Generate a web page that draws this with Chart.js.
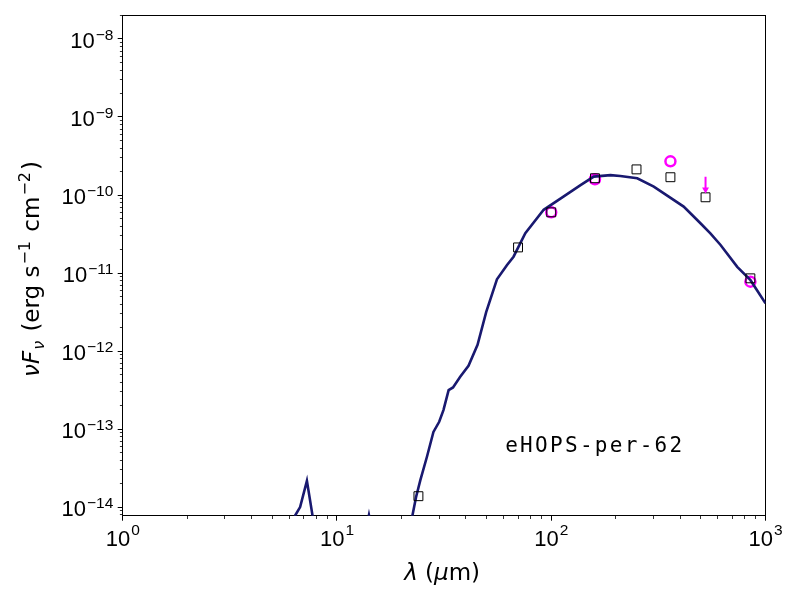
<!DOCTYPE html>
<html>
<head>
<meta charset="utf-8">
<script src="https://cdn.jsdelivr.net/npm/chart.js@4.4.1/dist/chart.umd.min.js"></script>
<style>
  html, body { margin: 0; padding: 0; background: #fff; }
  #wrap { width: 800px; height: 600px; }
</style>
</head>
<body>
<div id="wrap"><canvas id="sed"></canvas></div>
<script>
// --- SED of eHOPS-per-62: model curve + photometry (log-log) ---

const sourceName = 'eHOPS-per-62';

// axis ticks
const xTickValues = [1, 10, 100, 1000];
const xTickExponents = ['0', '1', '2', '3'];
const yTickValues = [1e-14, 1e-13, 1e-12, 1e-11, 1e-10, 1e-9, 1e-8];
const yTickExponents = ['−14', '−13', '−12', '−11', '−10', '−9', '−8'];
const minorSteps = [2, 3, 4, 5, 6, 7, 8, 9];

// model SED (micron, erg s-1 cm-2)
const modelLambda = [6.0, 6.38, 6.73, 7.24, 7.69, 8.0, 13.4, 14.1, 14.8, 21.5, 22.5, 23.4, 24.5, 26.3,
  28.2, 30.0, 31.4, 33.2, 34.8, 37.6, 41.1, 45.3, 49.7, 55.8, 62.2, 66.7, 75.7, 92.2, 114, 137,
  158, 189, 210, 252, 301, 415, 497, 553, 617, 738, 851, 1000];
const modelFlux = [1e-15, 7.8e-15, 1.0e-14, 2.17e-14, 7.8e-15, 1e-15, 4e-15, 7.9e-15, 4e-15, 2e-15, 7.8e-15, 1.35e-14, 2.22e-14, 4.42e-14,
  9.2e-14, 1.24e-13, 1.75e-13, 3.16e-13, 3.42e-13, 4.68e-13, 6.46e-13, 1.20e-12, 3.16e-12, 8.3e-12, 1.27e-11, 1.62e-11, 3.24e-11, 6.46e-11, 9.55e-11, 1.34e-10,
  1.72e-10, 1.80e-10, 1.75e-10, 1.64e-10, 1.28e-10, 7.1e-11, 4.34e-11, 3.23e-11, 2.29e-11, 1.20e-11, 8.1e-12, 4.08e-12];

// observed photometry (black squares)
const obsLambda = [24, 70, 100, 160, 250, 360, 525, 850];
const obsFlux = [1.38e-14, 2.13e-11, 6.0e-11, 1.64e-10, 2.13e-10, 1.69e-10, 9.35e-11, 8.55e-12];

// second photometry set (magenta circles)
const photLambda = [100, 160, 360, 850];
const photFlux = [6.0e-11, 1.59e-10, 2.70e-10, 7.75e-12];

// upper limit arrow
const limitLambda = [525, 525];
const limitFlux = [1.72e-10, 1.18e-10];

const xMin = 1, xMax = 1000;
const yMin = 7.76e-15, yMax = 2.01e-8;

const pts = (xs, ys) => xs.map((v, i) => ({ x: v, y: ys[i] }));
const isDecade = (v) => Math.abs(Math.log10(v) - Math.round(Math.log10(v))) < 1e-6;

function logTicks(lo, hi) {
  const out = [];
  for (let e = Math.floor(Math.log10(lo)); e <= Math.ceil(Math.log10(hi)); e++) {
    const d = Math.pow(10, e);
    [1, ...minorSteps].forEach((m) => {
      const v = Number((m * d).toPrecision(3));
      if (v >= lo * 0.999 && v <= hi * 1.001) out.push({ value: v });
    });
  }
  return out;
}

const tickFont = '22px "Liberation Sans", Arial, sans-serif';
const expFont = '15.5px "Liberation Sans", Arial, sans-serif';
const titleFont = '23px "DejaVu Sans", sans-serif';
const mathFont = 'italic 23px "DejaVu Sans", sans-serif';
const mathSmall = 'italic 16px "DejaVu Sans", sans-serif';
const supFont = '16px "DejaVu Sans", sans-serif';

function drawRuns(ctx, runs, cx, baseY) {
  let total = 0;
  runs.forEach((r) => { ctx.font = r.f; r.w = ctx.measureText(r.t).width + (r.gap || 0); total += r.w; });
  let x = cx - total / 2;
  ctx.textAlign = 'left';
  ctx.textBaseline = 'alphabetic';
  runs.forEach((r) => { ctx.font = r.f; ctx.fillText(r.t, x, baseY + (r.dy || 0)); x += r.w; });
}

const textPlugin = {
  id: 'sedText',
  afterDraw(chart) {
    const { ctx, chartArea: a, scales: { x, y } } = chart;
    ctx.save();
    ctx.fillStyle = '#000';
    ctx.textBaseline = 'alphabetic';

    // x tick labels: 10 with superscript exponent
    xTickValues.forEach((v, i) => {
      const px = x.getPixelForValue(v);
      ctx.font = tickFont; const wb = ctx.measureText('10').width;
      ctx.font = expFont; const we = ctx.measureText(xTickExponents[i]).width;
      const x0 = px - (wb + we + 1) / 2;
      ctx.textAlign = 'left';
      ctx.font = tickFont; ctx.fillText('10', x0, a.bottom + 30.3);
      ctx.font = expFont; ctx.fillText(xTickExponents[i], x0 + wb + 1, a.bottom + 19.3);
    });

    // y tick labels
    yTickValues.forEach((v, i) => {
      const py = y.getPixelForValue(v);
      const right = a.left - 9.4;
      ctx.textAlign = 'right';
      ctx.font = expFont; const we = ctx.measureText(yTickExponents[i]).width;
      ctx.fillText(yTickExponents[i], right, py + 1);
      ctx.font = tickFont; ctx.fillText('10', right - we - 1, py + 9);
    });

    // x axis title
    drawRuns(ctx, [
      { t: 'λ', f: mathFont },
      { t: ' (', f: titleFont },
      { t: 'μ', f: mathFont },
      { t: 'm)', f: titleFont },
    ], (a.left + a.right) / 2 - 2, 580);

    // y axis title (rotated)
    ctx.save();
    ctx.translate(39, (a.top + a.bottom) / 2 + 3.5);
    ctx.rotate(-Math.PI / 2);
    drawRuns(ctx, [
      { t: 'ν', f: mathFont },
      { t: 'F', f: mathFont, gap: 1 },
      { t: 'ν', f: mathSmall, dy: 4.5, gap: 2 },
      { t: ' (erg s', f: titleFont, gap: 1 },
      { t: '−1', f: supFont, dy: -9, gap: 2 },
      { t: ' cm', f: titleFont, gap: 1 },
      { t: '−2', f: supFont, dy: -9, gap: 2 },
      { t: ')', f: titleFont },
    ], 0, 0);
    ctx.restore();

    // source name
    ctx.font = '21px "DejaVu Sans Mono", monospace';
    if ('letterSpacing' in ctx) ctx.letterSpacing = '2.3px';
    ctx.textAlign = 'left';
    ctx.fillText(sourceName, a.left + (a.right - a.left) * 0.595, 452);
    ctx.restore();
  },
};

const tickGrid = (outerFirst) => ({
  display: true,
  drawOnChartArea: false,
  drawTicks: true,
  tickLength: 5,
  tickColor: '#000',
  tickWidth: (c) => (c.tick && isDecade(c.tick.value) ? 1 : 0.8),
  tickBorderDash: (c) => (c.tick && isDecade(c.tick.value) ? [] : (outerFirst ? [0, 2.2, 3, 20] : [3, 20])),
});

const frameAxis = (position) => ({
  type: 'linear', position, display: true,
  grid: { display: false, drawTicks: false, tickLength: 0 },
  ticks: { display: false },
  border: { display: true, color: '#000', width: 1 },
});

new Chart(document.getElementById('sed'), {
  type: 'scatter',
  data: {
    datasets: [
      {
        type: 'line',
        label: 'upper limit',
        data: pts(limitLambda, limitFlux),
        borderColor: '#ff00ff',
        borderWidth: 2,
        pointRadius: [0, 4],
        pointStyle: 'triangle',
        rotation: 180,
        pointBackgroundColor: '#ff00ff',
        pointBorderWidth: 0,
        order: 0,
      },
      {
        label: 'observed',
        data: pts(obsLambda, obsFlux),
        pointStyle: 'rect',
        pointRadius: 6.3,
        borderColor: '#000',
        backgroundColor: 'rgba(0,0,0,0)',
        borderWidth: 1,
        order: 1,
      },
      {
        type: 'line',
        label: 'model',
        data: pts(modelLambda, modelFlux),
        borderColor: '#191970',
        borderWidth: 2.6,
        pointRadius: 0,
        tension: 0,
        clip: 0,
        order: 2,
      },
      {
        label: 'photometry',
        data: pts(photLambda, photFlux),
        pointStyle: 'circle',
        pointRadius: 5,
        borderColor: '#ff00ff',
        backgroundColor: 'rgba(0,0,0,0)',
        borderWidth: 2.5,
        order: 3,
      },
    ],
  },
  options: {
    responsive: true,
    maintainAspectRatio: false,
    animation: false,
    layout: { padding: { left: 117.7, top: 15.3, right: 34.5, bottom: 79.3 } },
    plugins: { legend: { display: false }, tooltip: { enabled: false } },
    scales: {
      x: {
        type: 'logarithmic', position: 'bottom', min: xMin, max: xMax,
        afterBuildTicks: (s) => { s.ticks = logTicks(xMin, xMax); },
        ticks: { display: false, autoSkip: false },
        grid: tickGrid(false),
        border: { display: true, color: '#000', width: 1 },
      },
      y: {
        type: 'logarithmic', position: 'left', min: yMin, max: yMax,
        afterBuildTicks: (s) => { s.ticks = logTicks(yMin, yMax); },
        ticks: { display: false, autoSkip: false },
        grid: tickGrid(true),
        border: { display: true, color: '#000', width: 1 },
      },
      x2: frameAxis('top'),
      y2: frameAxis('right'),
    },
  },
  plugins: [textPlugin],
});
</script>
</body>
</html>
